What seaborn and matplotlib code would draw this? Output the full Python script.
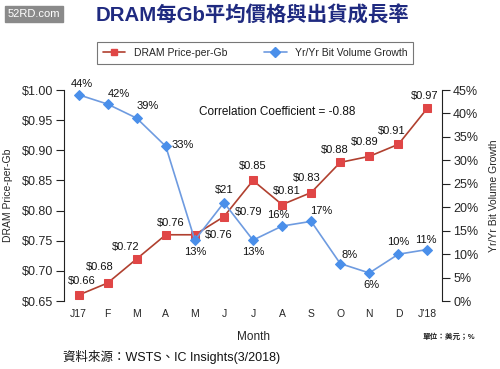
import matplotlib
matplotlib.use("Agg")
import matplotlib.pyplot as plt
from matplotlib.lines import Line2D
import seaborn as sns
import numpy as np
import pandas as pd

months = ["J17", "F", "M", "A", "M", "J", "J", "A", "S", "O", "N", "D", "J'18"]
price = [0.66, 0.68, 0.72, 0.76, 0.76, 0.79, 0.85, 0.81, 0.83, 0.88, 0.89, 0.91, 0.97]
growth = [44, 42, 39, 33, 13, 21, 13, 16, 17, 8, 6, 10, 11]
price_labels = ["$%.2f" % p for p in price]
growth_labels = ["%d%%" % g for g in growth]
growth_labels[5] = "$21"  # as printed in the source chart

# label offsets (points) for each data label
price_off = [(2, 10.4), (-6, 11.5), (-8, 8.5), (3.6, 8.5), (17.5, 0), (17.5, 3.5), (0, 10.4),
             (3, 10), (-3, 10.4), (-4, 9), (-3, 10.4), (-5, 9.6), (-2, 9)]
growth_off = [(2, 7.5), (8, 7), (8, 9), (12.5, 1), (0, -8.5), (0, 9), (0, -8.5), (-3, 8),
              (7, 7.5), (7, 6), (1.5, -9), (0, 9), (-1.5, 7)]

df = pd.DataFrame({"pos": np.arange(len(months)), "price": price, "growth": growth})

sns.set_style("white")
plt.rcParams['font.family'] = ['Liberation Sans', 'Noto Sans CJK TC', 'DejaVu Sans']

RED_LINE = "#b0402f"
RED_MK = "#e04646"
BLUE_LINE = "#6e9be0"
BLUE_MK = "#4a8fea"

fig = plt.figure(figsize=(5, 3.69), dpi=100)
ax = fig.add_axes([0.128, 0.184, 0.756, 0.572])
ax2 = ax.twinx()

sns.lineplot(data=df, x="pos", y="price", ax=ax, color=RED_LINE, linewidth=1.2,
             marker="s", markersize=5.2, markerfacecolor=RED_MK, markeredgecolor=RED_MK,
             sort=False, legend=False)
sns.lineplot(data=df, x="pos", y="growth", ax=ax2, color=BLUE_LINE, linewidth=1.2,
             marker="D", markersize=5.6, markerfacecolor=BLUE_MK, markeredgecolor=BLUE_MK,
             sort=False, legend=False)
for line in ax.lines + ax2.lines:
    line.set_clip_on(False)

ax.set_xlim(-0.5, len(months) - 0.5)
ax.set_ylim(0.65, 1.00)
ax2.set_ylim(0, 45)
ax.set_yticks(np.arange(0.65, 1.001, 0.05))
ax.set_yticklabels(["$%.2f" % v for v in np.arange(0.65, 1.001, 0.05)])
ax2.set_yticks(range(0, 46, 5))
ax2.set_yticklabels(["%d%%" % v for v in range(0, 46, 5)])
ax.set_xticks(df["pos"])
ax.set_xticklabels(months)

for a in (ax, ax2):
    for s in ("top", "bottom"):
        a.spines[s].set_visible(False)
ax.spines["right"].set_visible(False)
ax2.spines["left"].set_visible(False)
ax.spines["left"].set_color("#222222")
ax2.spines["right"].set_color("#222222")
ax.tick_params(axis="y", direction="out", length=6, width=0.8, color="#222222",
               labelsize=9, pad=2, left=True)
ax2.tick_params(axis="y", direction="out", length=6, width=0.8, color="#222222",
                labelsize=9, pad=2, right=True)
ax.tick_params(axis="x", length=0, labelsize=7.5, pad=6)

ax.set_xlabel("Month", fontsize=8.5, labelpad=8)
ax.set_ylabel("DRAM Price-per-Gb", fontsize=7.5, labelpad=6)
ax2.set_ylabel("Yr/Yr Bit Volume Growth", fontsize=7.5, labelpad=8)

for i in range(len(months)):
    ax.annotate(price_labels[i], (i, price[i]), xytext=price_off[i], textcoords="offset points",
                ha="center", va="center", fontsize=8, color="#111111")
    ax2.annotate(growth_labels[i], (i, growth[i]), xytext=growth_off[i], textcoords="offset points",
                 ha="center", va="center", fontsize=8, color="#111111")

ax.text(0.563, 0.895, "Correlation Coefficient = -0.88", transform=ax.transAxes,
        ha="center", va="center", fontsize=8.5, color="#111111")

handles = [Line2D([], [], color=RED_LINE, marker="s", markersize=5, markerfacecolor=RED_MK,
                  markeredgecolor=RED_MK, linewidth=1.2),
           Line2D([], [], color=BLUE_LINE, marker="D", markersize=5, markerfacecolor=BLUE_MK,
                  markeredgecolor=BLUE_MK, linewidth=1.2)]
leg = fig.legend(handles, ["DRAM Price-per-Gb", "Yr/Yr Bit Volume Growth"], ncol=2,
                 loc="center", bbox_to_anchor=(0.51, 0.856), fontsize=7.5, frameon=True,
                 fancybox=False, edgecolor="#555555", handlelength=2.2, columnspacing=3.5,
                 borderpad=0.55)
leg.get_frame().set_linewidth(0.8)

fig.text(0.505, 0.958, "DRAM每Gb平均價格與出貨成長率", ha="center", va="center",
         fontsize=14.7, fontweight="bold", color="#1f2a80")
fig.text(0.068, 0.962, "52RD.com", ha="center", va="center", fontsize=8, color="white",
         bbox=dict(boxstyle="square,pad=0.25", facecolor="#8a8a8a", edgecolor="#8a8a8a"))
fig.text(0.898, 0.087, "單位：美元；%", ha="center", va="center", fontsize=5.5,
         fontweight="bold", color="#222222")
fig.text(0.126, 0.033, "資料來源：WSTS、IC Insights(3/2018)", ha="left", va="center",
         fontsize=9, color="#111111")

fig.savefig("out.png", dpi=100)
